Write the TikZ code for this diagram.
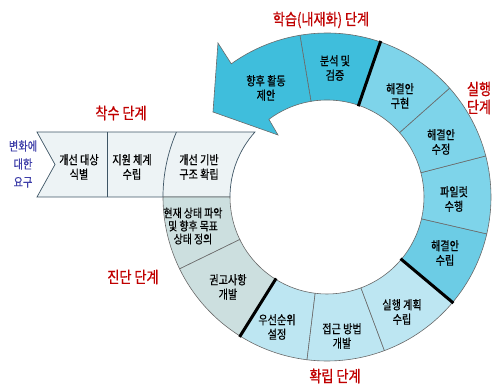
\documentclass[tikz,border=0pt]{standalone}
\usepackage{fontspec}
\newfontfamily\kr[FakeStretch=0.82]{Noto Sans CJK KR}
\newfontfamily\krb[FakeStretch=0.82,FakeBold=0.6]{Noto Sans CJK KR}
\definecolor{bandfill}{HTML}{EDF3F5}
\definecolor{bandline}{HTML}{3E5565}
\definecolor{diag}{HTML}{CCDFDF}
\definecolor{estab}{HTML}{BDE6F2}
\definecolor{exec}{HTML}{7ED4EA}
\definecolor{execd}{HTML}{6CCCE5}
\definecolor{learn}{HTML}{3FBEDC}
\definecolor{ringline}{HTML}{6A6A6A}
\definecolor{stagered}{HTML}{C00000}
\definecolor{needblue}{HTML}{3D3DA8}
\begin{document}
\begin{tikzpicture}[x=1pt,y=1pt,
  lbl/.style={font=\krb\fontsize{12.3}{14.5}\selectfont, align=center, text=black, inner sep=0pt},
  stagelbl/.style={font=\krb\fontsize{16}{18}\selectfont, text=stagered, inner sep=0pt, align=center},
  needlbl/.style={font=\krb\fontsize{12.5}{18}\selectfont, text=needblue, inner sep=0pt, align=center},
  segline/.style={draw=ringline, line width=0.6pt},
  sepline/.style={line width=3pt, draw=black}]
\useasboundingbox (-327,-190) rectangle (168,197);
% band (start stage)
\filldraw[fill=bandfill, draw=bandline, line width=0.7pt]
  (-290,64.9) -- (138:97) arc[start angle=138, end angle=180, radius=97]
  -- (-290,0) -- (-272,32.5) -- cycle;
\draw[bandline, line width=0.7pt] (-220,0) -- (-220,64.9);
\draw[bandline, line width=0.7pt] (156.7:164) arc[start angle=156.7, end angle=180, radius=164];
% ring segments
\foreach \a/\b/\c in {180/206/diag, 206/238/diag, 238/263/estab, 263/290.5/estab,
  290.5/320/estab, 320/347/execd, 347/374.5/exec, 374.5/401.6/exec, 401.6/431/exec, 431/459.5/learn}
  \filldraw[fill=\c, segline] (\a:164) arc[start angle=\a, end angle=\b, radius=164]
    -- (\b:97) arc[start angle=\b, end angle=\a, radius=97] -- cycle;
% arrow
\filldraw[fill=learn, segline] (99.5:164) arc[start angle=99.5, end angle=125.7, radius=164]
  -- (125.3:188.7) -- (143.3:142.2) -- (128.3:79) -- (126.8:97)
  arc[start angle=126.8, end angle=99.5, radius=97] -- cycle;
% thick phase separators
\foreach \t in {238,320,431}
  \draw[sepline] (\t:96) -- (\t:165);
% band labels
\node[lbl] (l1) at (-248,30) {개선 대상\\식별};
\node[lbl] (l2) at (-195,30) {지원 체계\\수립};
\node[lbl] (l3) at (-128,30) {개선 기반\\구조 확립};
% ring labels
\node[lbl, font=\krb\fontsize{12}{13}\selectfont] (s1) at (-134,-29) {현재 상태 파악\\및 향후 목표\\상태 정의};
\node[lbl] (s2) at (-99,-90) {권고사항\\개발};
\node[lbl] (s3) at (-50,-130) {우선순위\\설정};
\node[lbl] (s4) at (15,-139) {접근 방법\\개발};
\node[lbl] (s5) at (75,-115) {실행 계획\\수립};
\node[lbl] (s6) at (118,-56) {해결안\\수립};
\node[lbl] (s7) at (127,-2) {파일럿\\수행};
\node[lbl] (s8) at (114,55) {해결안\\수정};
\node[lbl] (s9) at (73,101) {해결안\\구현};
\node[lbl] (s10) at (8,129) {분석 및\\검증};
\node[lbl] (s11) at (-61,109) {향후 활동\\제안};
% stage labels
\node[stagelbl] (st1) at (-206,84) {착수 단계};
\node[stagelbl] (st2) at (-6,177) {학습(내재화) 단계};
\node[stagelbl] (st3) at (152,99) {실행\\단계};
\node[stagelbl] (st4) at (-194,-80) {진단 단계};
\node[stagelbl] (st5) at (8,-179) {확립 단계};
\node[needlbl] (nd) at (-304,33) {변화에\\대한\\요구};
\end{tikzpicture}
\end{document}
